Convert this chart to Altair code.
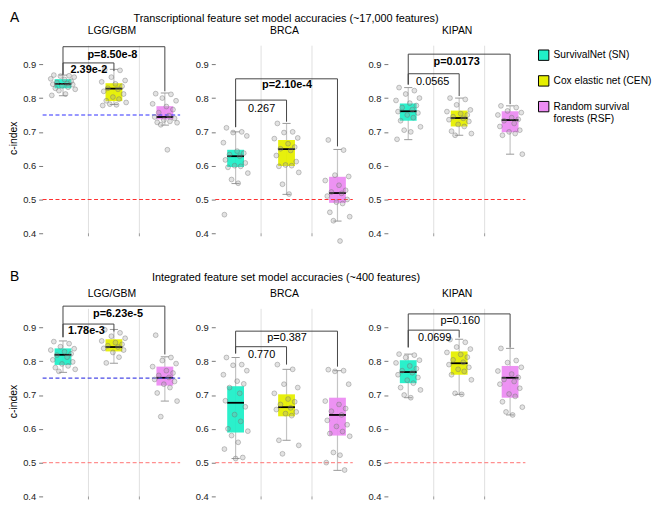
import altair as alt
import pandas as pd

FONT = "Liberation Sans"

panels = ["LGG/GBM", "BRCA", "KIPAN"]
methods = ["SurvivalNet (SN)", "Cox elastic net (CEN)", "Random survival forests (RSF)"]
legend_labels = ["SurvivalNet (SN)", "Cox elastic net (CEN)", "Random survival\n\u00a0\u00a0forests (RSF)"]
method_pos = [1, 2, 3]
colors = ["#20efc8", "#e6ef00", "#ec8cf2"]

row_tags = ["A", "B"]
row_titles = [
    "Transcriptional feature set model accuracies (~17,000 features)",
    "Integrated feature set model accuracies (~400 features)",
]

# box statistics, panel-major order (LGG/GBM SN, CEN, RSF, BRCA SN, ...)
A_q1 = [0.829, 0.791, 0.737, 0.596, 0.599, 0.490, 0.733, 0.716, 0.699]
A_med = [0.842, 0.828, 0.744, 0.628, 0.649, 0.519, 0.761, 0.741, 0.735]
A_q3 = [0.856, 0.844, 0.776, 0.647, 0.676, 0.567, 0.784, 0.763, 0.761]
A_lo = [0.807, 0.781, 0.720, 0.547, 0.515, 0.436, 0.677, 0.690, 0.634]
A_hi = [0.868, 0.885, 0.815, 0.700, 0.725, 0.648, 0.831, 0.800, 0.777]

B_q1 = [0.789, 0.829, 0.728, 0.589, 0.637, 0.580, 0.735, 0.760, 0.692]
B_med = [0.819, 0.842, 0.751, 0.677, 0.664, 0.641, 0.768, 0.794, 0.751]
B_q3 = [0.838, 0.865, 0.784, 0.726, 0.702, 0.692, 0.803, 0.829, 0.786]
B_lo = [0.767, 0.794, 0.682, 0.512, 0.566, 0.477, 0.692, 0.702, 0.641]
B_hi = [0.860, 0.894, 0.813, 0.811, 0.776, 0.772, 0.821, 0.865, 0.838]

# individual c-index values (cross-validation runs)
A_points = [
    [0.868, 0.866, 0.865, 0.862, 0.857, 0.855, 0.850, 0.846, 0.843, 0.841, 0.840, 0.836, 0.832, 0.829, 0.826, 0.822, 0.812, 0.808],
    [0.884, 0.882, 0.862, 0.852, 0.848, 0.842, 0.835, 0.829, 0.826, 0.820, 0.812, 0.803, 0.797, 0.792, 0.787, 0.782, 0.780, 0.778],
    [0.813, 0.811, 0.800, 0.792, 0.783, 0.775, 0.766, 0.757, 0.748, 0.744, 0.740, 0.735, 0.731, 0.728, 0.727, 0.721, 0.647],
    [0.712, 0.700, 0.698, 0.688, 0.668, 0.643, 0.637, 0.633, 0.628, 0.617, 0.608, 0.600, 0.598, 0.595, 0.578, 0.559, 0.548, 0.455],
    [0.725, 0.700, 0.698, 0.682, 0.680, 0.665, 0.655, 0.650, 0.645, 0.630, 0.612, 0.602, 0.600, 0.598, 0.580, 0.545, 0.516],
    [0.676, 0.646, 0.572, 0.568, 0.556, 0.542, 0.527, 0.522, 0.518, 0.510, 0.500, 0.492, 0.488, 0.462, 0.449, 0.437, 0.377],
    [0.831, 0.822, 0.812, 0.800, 0.793, 0.785, 0.778, 0.772, 0.766, 0.760, 0.756, 0.750, 0.742, 0.733, 0.715, 0.705, 0.700, 0.678],
    [0.800, 0.796, 0.780, 0.765, 0.760, 0.754, 0.750, 0.745, 0.740, 0.736, 0.731, 0.722, 0.716, 0.702, 0.695, 0.690],
    [0.777, 0.772, 0.762, 0.757, 0.750, 0.742, 0.737, 0.733, 0.725, 0.716, 0.705, 0.700, 0.695, 0.690, 0.634],
]
B_points = [
    [0.858, 0.852, 0.843, 0.837, 0.833, 0.828, 0.822, 0.818, 0.812, 0.804, 0.798, 0.792, 0.786, 0.781, 0.776, 0.770],
    [0.893, 0.884, 0.874, 0.868, 0.860, 0.855, 0.850, 0.846, 0.842, 0.838, 0.833, 0.826, 0.812, 0.795],
    [0.877, 0.811, 0.802, 0.793, 0.784, 0.772, 0.765, 0.758, 0.752, 0.746, 0.740, 0.732, 0.722, 0.706, 0.682, 0.636],
    [0.811, 0.790, 0.788, 0.772, 0.760, 0.741, 0.733, 0.722, 0.705, 0.683, 0.665, 0.642, 0.622, 0.600, 0.593, 0.580, 0.560, 0.540, 0.515, 0.512],
    [0.790, 0.776, 0.732, 0.722, 0.705, 0.688, 0.680, 0.672, 0.662, 0.657, 0.650, 0.645, 0.639, 0.566, 0.551, 0.526],
    [0.775, 0.772, 0.770, 0.732, 0.682, 0.672, 0.660, 0.652, 0.641, 0.625, 0.612, 0.607, 0.592, 0.586, 0.578, 0.530, 0.522, 0.500, 0.478],
    [0.821, 0.818, 0.811, 0.803, 0.795, 0.786, 0.778, 0.772, 0.766, 0.760, 0.752, 0.744, 0.735, 0.722, 0.715, 0.700, 0.692],
    [0.864, 0.856, 0.842, 0.836, 0.826, 0.820, 0.812, 0.804, 0.797, 0.790, 0.782, 0.776, 0.770, 0.760, 0.745, 0.705, 0.702],
    [0.838, 0.802, 0.796, 0.782, 0.771, 0.762, 0.752, 0.746, 0.740, 0.732, 0.720, 0.703, 0.696, 0.680, 0.664, 0.650, 0.641],
]
# horizontal jitter of points (category units)
jitter = [-0.18, 0.12, -0.05, 0.22, -0.24, 0.03, 0.16, -0.12, 0.08, -0.20,
          0.19, -0.02, 0.10, -0.15, 0.24, -0.08, 0.05, -0.22, 0.14, 0.0]

# significance brackets: per panel (x1, x2, y_bar, y_end_left, y_end_right)
A_brackets = [
    [(1, 3, 0.952, 0.869, 0.820), (1, 2, 0.904, 0.869, 0.880)],
    [(1, 3, 0.857, 0.714, 0.657), (1, 2, 0.794, 0.714, 0.730)],
    [(1, 3, 0.930, 0.840, 0.782), (1, 2, 0.872, 0.840, 0.806)],
]
B_brackets = [
    [(1, 3, 0.963, 0.871, 0.820), (1, 2, 0.910, 0.871, 0.888)],
    [(1, 3, 0.889, 0.823, 0.784), (1, 2, 0.843, 0.823, 0.790)],
    [(1, 3, 0.940, 0.841, 0.840), (1, 2, 0.892, 0.841, 0.870)],
]
# p-value labels: (text, x, y, bold)
A_labels = [
    [("p=8.50e-8", 1.97, 0.927, True), ("2.39e-2", 1.51, 0.882, True)],
    [("p=2.10e-4", 2.01, 0.838, True), ("0.267", 1.51, 0.769, False)],
    [("p=0.0173", 1.95, 0.907, True), ("0.0565", 1.48, 0.847, False)],
]
B_labels = [
    [("p=6.23e-5", 2.08, 0.940, True), ("1.78e-3", 1.46, 0.889, True)],
    [("p=0.387", 2.01, 0.868, False), ("0.770", 1.51, 0.819, False)],
    [("p=0.160", 2.02, 0.920, False), ("0.0699", 1.52, 0.870, False)],
]
chance_level = 0.5
baseline_lgg = 0.75
grid_x = [1.5, 2.5]
grid_top = 0.955
grid_bottom = 0.4
tick_bottom = 0.391
X_MIN, X_MAX = 0.6, 3.3

ROWS = [
    dict(q1=A_q1, med=A_med, q3=A_q3, lo=A_lo, hi=A_hi, pts=A_points,
         br=A_brackets, lab=A_labels, red="#ff3030", red_op=1.0, blue="#3030ff", tag_y=-32),
    dict(q1=B_q1, med=B_med, q3=B_q3, lo=B_lo, hi=B_hi, pts=B_points,
         br=B_brackets, lab=B_labels, red="#ff6a6a", red_op=0.75, blue="#4a4ae6", tag_y=-36),
]

W, H = 139, 193
BOXW = 0.165
CAPW = 0.08

xs = alt.Scale(domain=[X_MIN, X_MAX], nice=False, zero=False)
ys = alt.Scale(domain=[0.4, 0.965], nice=False, zero=False)
fill_scale = alt.Scale(domain=methods, range=colors)


def xaxis(title):
    return alt.Axis(orient="top", title=title, labels=False, ticks=False, grid=False,
                    domain=False, titleFont=FONT, titleFontSize=10.5,
                    titleFontWeight="normal", titleColor="black", titlePadding=7)


def yaxis(with_title):
    kw = dict(values=[0.4, 0.5, 0.6, 0.7, 0.8, 0.9], format=".1f", grid=False,
              domain=False, tickSize=4, tickColor="#777777", labelPadding=3,
              labelFontSize=9.5, labelColor="#222222", labelFont=FONT)
    if with_title:
        kw.update(title="c-index", titleFontSize=10.5, titleFontWeight="normal",
                  titleFont=FONT, titleColor="black", titlePadding=4)
    else:
        kw.update(title=None)
    return alt.Axis(**kw)


def panel_chart(r, p):
    R = ROWS[r]
    xa = xaxis(panels[p])
    ya = yaxis(p == 0)
    sl = slice(p * 3, p * 3 + 3)
    box = pd.DataFrame({
        "method": methods, "pos": method_pos,
        "q1": R["q1"][sl], "med": R["med"][sl], "q3": R["q3"][sl],
        "lo": R["lo"][sl], "hi": R["hi"][sl],
    })
    prow = []
    for m in range(3):
        for i, v in enumerate(R["pts"][p * 3 + m]):
            prow.append({"method": methods[m], "pos": method_pos[m],
                         "value": v, "jit": jitter[i % len(jitter)]})
    pts = pd.DataFrame(prow)
    br = pd.DataFrame([dict(x1=a, x2=b, y=y, e1=e1, e2=e2) for a, b, y, e1, e2 in R["br"][p]])
    lab = pd.DataFrame([dict(t=t, x=x, y=y, bold=bd) for t, x, y, bd in R["lab"][p]])
    n = len(grid_x)
    grid = pd.DataFrame({"x": grid_x, "y0": [grid_bottom] * n, "y1": [grid_top] * n,
                         "t0": [tick_bottom] * n})

    X = lambda f: alt.X(f, type="quantitative", scale=xs, axis=xa)
    Y = lambda f: alt.Y(f, type="quantitative", scale=ys, axis=ya)

    gridl = alt.Chart(grid).mark_rule(stroke="#e0e0e0", strokeWidth=1).encode(
        x=X("x"), y=Y("y0"), y2="y1")
    ticks = alt.Chart(grid).mark_rule(stroke="#999999", strokeWidth=1).encode(
        x=X("x"), y=Y("t0"), y2="y0")

    base_box = alt.Chart(box).transform_calculate(
        bl=f"datum.pos - {BOXW}", br=f"datum.pos + {BOXW}",
        cl=f"datum.pos - {CAPW}", cr=f"datum.pos + {CAPW}")

    whisk = base_box.mark_rule(stroke="#c4c4c4", strokeWidth=1.2).encode(
        x=X("pos"), y=Y("lo"), y2="hi")
    cap_lo = base_box.mark_rule(stroke="#9a9a9a", strokeWidth=1).encode(
        x=X("cl"), x2="cr", y=Y("lo"))
    cap_hi = base_box.mark_rule(stroke="#9a9a9a", strokeWidth=1).encode(
        x=X("cl"), x2="cr", y=Y("hi"))
    rect = base_box.mark_rect(opacity=0.95).encode(
        x=X("bl"), x2="br", y=Y("q1"), y2="q3",
        fill=alt.Fill("method:N", scale=fill_scale, legend=None))
    med = base_box.mark_rule(stroke="black", strokeWidth=1.8).encode(
        x=X("bl"), x2="br", y=Y("med"))

    points = alt.Chart(pts).transform_calculate(px="datum.pos + datum.jit").mark_circle(
        size=24, fill="#a0a0a0", fillOpacity=0.3, stroke="#6f6f6f", strokeWidth=0.8,
        strokeOpacity=0.5).encode(x=X("px"), y=Y("value"))

    ref_rows = [dict(x0=X_MIN, x1=X_MAX, y=chance_level, kind="red")]
    if p == 0:
        ref_rows.append(dict(x0=X_MIN, x1=X_MAX, y=baseline_lgg, kind="blue"))
    refdf = pd.DataFrame(ref_rows)
    ref_red = alt.Chart(refdf).transform_filter("datum.kind == 'red'").mark_rule(
        stroke=R["red"], strokeOpacity=R["red_op"], strokeDash=[4, 2.5], strokeWidth=1.1).encode(
        x=X("x0"), x2="x1", y=Y("y"))
    ref_blue = alt.Chart(refdf).transform_filter("datum.kind == 'blue'").mark_rule(
        stroke=R["blue"], strokeOpacity=1, strokeDash=[4, 2.5], strokeWidth=1.1).encode(
        x=X("x0"), x2="x1", y=Y("y"))

    bcol = "#444444"
    bar_h = alt.Chart(br).mark_rule(stroke=bcol, strokeWidth=1).encode(x=X("x1"), x2="x2", y=Y("y"))
    leg_l = alt.Chart(br).mark_rule(stroke=bcol, strokeWidth=1).encode(x=X("x1"), y=Y("y"), y2="e1")
    leg_r = alt.Chart(br).mark_rule(stroke=bcol, strokeWidth=1).encode(x=X("x2"), y=Y("y"), y2="e2")
    lab_b = alt.Chart(lab).transform_filter("datum.bold").mark_text(
        font=FONT, fontSize=11, fontWeight="bold", color="black", baseline="middle").encode(
        x=X("x"), y=Y("y"), text="t:N")
    lab_n = alt.Chart(lab).transform_filter("!datum.bold").mark_text(
        font=FONT, fontSize=11, fontWeight="normal", color="black", baseline="middle").encode(
        x=X("x"), y=Y("y"), text="t:N")

    layers = [gridl, ticks, whisk, cap_lo, cap_hi, rect, med, ref_red]
    if p == 0:
        layers.append(ref_blue)
    layers += [points, bar_h, leg_l, leg_r, lab_b, lab_n]

    if p == 0:
        tag = alt.Chart(pd.DataFrame({"t": [row_tags[r]]})).mark_text(
            font=FONT, fontSize=14, align="left", baseline="top", color="black").encode(
            text="t:N", x=alt.value(-33), y=alt.value(R["tag_y"]))
        ttl = alt.Chart(pd.DataFrame({"t": [row_titles[r]]})).mark_text(
            font=FONT, fontSize=11, align="center", baseline="top", color="black").encode(
            text="t:N", x=alt.value(246), y=alt.value(R["tag_y"] + 2.4))
        layers += [tag, ttl]

    return alt.layer(*layers).properties(width=W, height=H)


def legend_panel():
    df = pd.DataFrame({"method": methods, "label": legend_labels, "idx": [0, 1, 2]})
    yk = alt.Y("idx:Q", scale=alt.Scale(domain=[0, 2], range=[13, 65]), axis=None)
    sym = alt.Chart(df).mark_square(size=110, stroke="black", strokeWidth=1, opacity=1).encode(
        x=alt.value(-17), y=yk, fill=alt.Fill("method:N", scale=fill_scale, legend=None))
    txt = alt.Chart(df).mark_text(font=FONT, fontSize=10.3, align="left", baseline="middle",
                                  color="black", lineBreak="\n", lineHeight=13).encode(
        x=alt.value(-7), y=yk, text="label:N")
    return alt.layer(sym, txt).properties(width=10, height=H)


rowA = alt.hconcat(*[panel_chart(0, p) for p in range(3)], legend_panel(),
                   spacing=35.5, bounds="flush")
rowB = alt.hconcat(*[panel_chart(1, p) for p in range(3)], spacing=35.5, bounds="flush")

chart = alt.vconcat(rowA, rowB, spacing=25).properties(padding=0).configure_view(
    stroke=None).resolve_scale(fill="shared")

chart.save("out.html", embed_options={"renderer": "svg", "actions": False})
